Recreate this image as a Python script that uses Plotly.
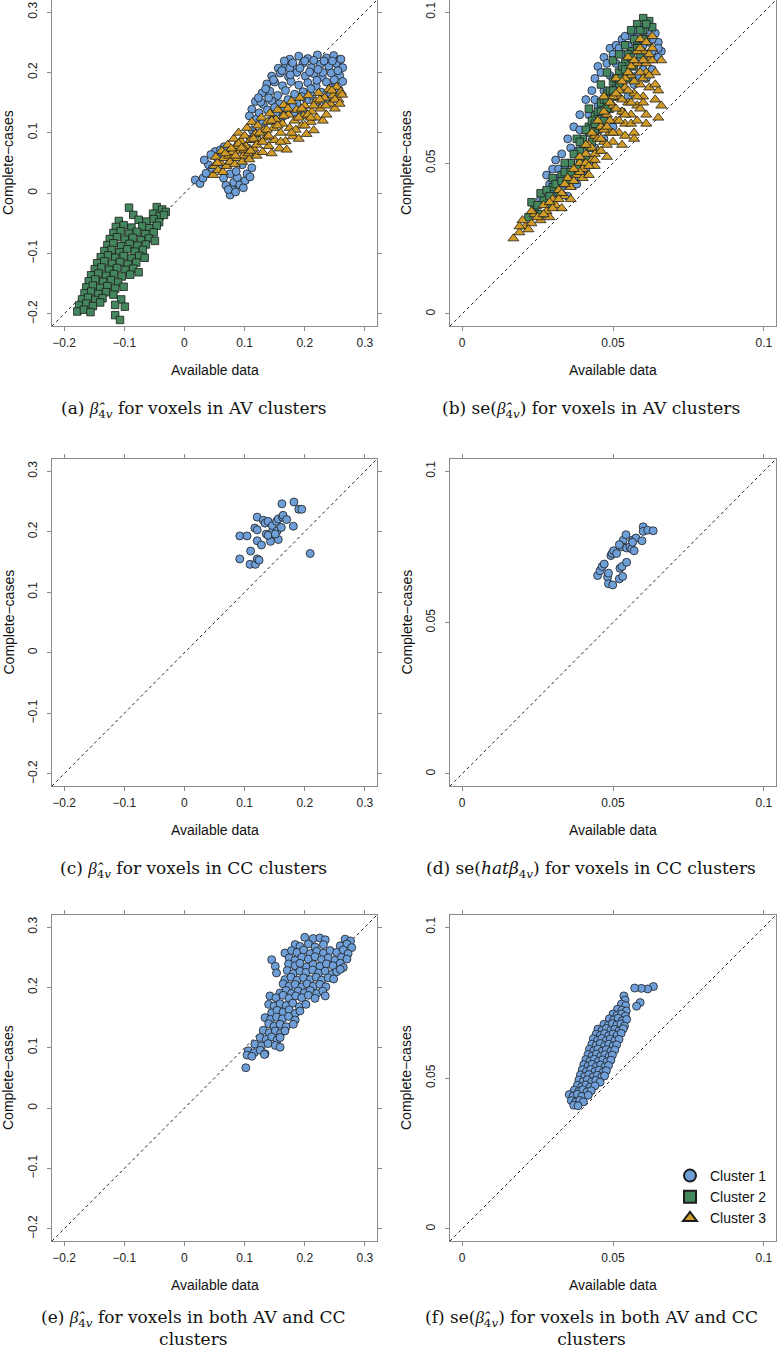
import plotly.graph_objects as go

# ---------------- data ----------------
BETA_TICKS = [-0.2, -0.1, 0, 0.1, 0.2, 0.3]
BETA_TICKTEXT = ["\u22120.2", "\u22120.1", "0", "0.1", "0.2", "0.3"]
BETA_LIM = [-0.2, 0.3]
SE_TICKS = [0, 0.05, 0.1]
SE_TICKTEXT = ["0", "0.05", "0.1"]
SE_LIM = [0.0, 0.1]

CLUSTER_NAMES = ["Cluster 1", "Cluster 2", "Cluster 3"]

# (a) beta hat, AV clusters
A_C1 = [(0.175,0.222),(0.19,0.227),(0.205,0.223),(0.221,0.229),(0.236,0.224),(0.248,0.228),(0.258,0.221),
        (0.156,0.207),(0.168,0.213),(0.181,0.209),(0.197,0.215),(0.211,0.208),(0.226,0.214),(0.24,0.21),(0.252,0.215),(0.263,0.208),
        (0.145,0.194),(0.159,0.199),(0.173,0.193),(0.187,0.2),(0.201,0.194),(0.215,0.198),(0.229,0.192),(0.244,0.199),(0.258,0.195),
        (0.137,0.181),(0.15,0.184),(0.163,0.178),(0.177,0.185),(0.19,0.179),(0.205,0.183),(0.219,0.177),(0.236,0.184),(0.25,0.179),(0.263,0.185),
        (0.129,0.166),(0.142,0.169),(0.155,0.162),(0.168,0.17),(0.183,0.164),(0.197,0.168),(0.212,0.161),(0.228,0.167),(0.243,0.164),(0.257,0.171),
        (0.118,0.152),(0.131,0.147),(0.145,0.153),(0.158,0.148),(0.172,0.155),(0.187,0.149),(0.203,0.154),(0.218,0.148),(0.235,0.151),
        (0.112,0.139),(0.124,0.133),(0.138,0.138),(0.152,0.133),(0.167,0.139),(0.182,0.134),(0.198,0.136),
        (0.118,0.122),(0.13,0.117),(0.145,0.121),(0.16,0.118),(0.108,0.128),(0.127,0.151),(0.175,0.207),(0.26,0.222),(0.166,0.219),
        (0.123,0.158),(0.135,0.173),(0.148,0.188),(0.162,0.203),(0.18,0.216),(0.2,0.219),(0.215,0.22),(0.232,0.219),(0.246,0.219),
        (0.255,0.203),(0.249,0.188),(0.243,0.174),(0.23,0.2),(0.22,0.187),(0.21,0.173),(0.195,0.16),(0.18,0.143),(0.165,0.128),
        (0.15,0.142),(0.14,0.158),(0.176,0.196),(0.192,0.207),(0.208,0.201),(0.222,0.205),
        (0.018,0.022),(0.026,0.016),(0.031,0.025),(0.036,0.033),(0.04,0.047),(0.046,0.041),(0.051,0.069),(0.055,0.058),(0.06,0.072),
        (0.066,0.077),(0.071,0.064),(0.058,0.046),(0.065,0.025),(0.069,0.013),(0.076,-0.003),(0.08,0.006),(0.082,0.018),(0.088,0.026),
        (0.092,0.014),(0.098,0.009),(0.101,0.021),(0.104,0.032),(0.109,0.027),(0.112,0.042),(0.076,0.032),(0.086,0.036),(0.096,0.047),
        (0.1,0.061),(0.105,0.075),(0.109,0.063),(0.11,0.09),(0.113,0.104),(0.119,0.099),(0.073,0.006),(0.085,0.002),(0.033,0.055),(0.044,0.064)]
A_C2 = [(-0.092,-0.024),(-0.046,-0.023),(-0.037,-0.027),(-0.031,-0.031),
        (-0.085,-0.036),(-0.052,-0.034),(-0.041,-0.038),(-0.034,-0.036),
        (-0.109,-0.046),(-0.076,-0.044),(-0.063,-0.047),(-0.051,-0.043),(-0.042,-0.048),
        (-0.114,-0.056),(-0.101,-0.053),(-0.088,-0.057),(-0.07,-0.055),(-0.058,-0.058),(-0.046,-0.054),
        (-0.118,-0.066),(-0.106,-0.063),(-0.092,-0.067),(-0.079,-0.064),(-0.065,-0.068),(-0.051,-0.065),
        (-0.124,-0.076),(-0.112,-0.073),(-0.099,-0.077),(-0.086,-0.074),(-0.072,-0.078),(-0.059,-0.075),(-0.049,-0.079),
        (-0.128,-0.086),(-0.118,-0.083),(-0.105,-0.088),(-0.091,-0.084),(-0.078,-0.087),(-0.064,-0.085),
        (-0.133,-0.096),(-0.121,-0.094),(-0.108,-0.098),(-0.095,-0.093),(-0.082,-0.097),(-0.069,-0.094),
        (-0.139,-0.106),(-0.127,-0.103),(-0.115,-0.107),(-0.101,-0.104),(-0.088,-0.108),(-0.075,-0.104),(-0.066,-0.107),
        (-0.145,-0.116),(-0.133,-0.113),(-0.12,-0.117),(-0.107,-0.114),(-0.094,-0.118),(-0.08,-0.115),
        (-0.149,-0.126),(-0.138,-0.123),(-0.125,-0.127),(-0.112,-0.124),(-0.098,-0.127),(-0.085,-0.125),(-0.076,-0.131),
        (-0.155,-0.136),(-0.143,-0.133),(-0.13,-0.137),(-0.117,-0.134),(-0.104,-0.138),(-0.09,-0.135),
        (-0.159,-0.146),(-0.148,-0.143),(-0.135,-0.147),(-0.122,-0.144),(-0.11,-0.148),
        (-0.163,-0.156),(-0.152,-0.153),(-0.14,-0.157),(-0.128,-0.154),(-0.115,-0.158),(-0.101,-0.155),
        (-0.166,-0.166),(-0.155,-0.163),(-0.143,-0.167),(-0.13,-0.164),(-0.118,-0.168),
        (-0.17,-0.176),(-0.16,-0.173),(-0.148,-0.177),(-0.136,-0.174),(-0.105,-0.176),
        (-0.175,-0.186),(-0.163,-0.183),(-0.152,-0.187),(-0.14,-0.181),(-0.115,-0.185),(-0.099,-0.188),
        (-0.178,-0.196),(-0.167,-0.193),(-0.156,-0.197),(-0.115,-0.202),(-0.107,-0.21)]
A_C3 = [(0.048,0.03),(0.05,0.045),(0.052,0.06),(0.056,0.038),
        (0.06,0.05),(0.062,0.07),(0.064,0.035),(0.066,0.058),
        (0.07,0.045),(0.072,0.08),(0.074,0.062),(0.076,0.052),
        (0.08,0.068),(0.082,0.09),(0.084,0.048),(0.086,0.078),(0.088,0.058),
        (0.09,0.1),(0.092,0.07),(0.094,0.086),(0.096,0.052),(0.098,0.062),
        (0.1,0.095),(0.102,0.078),(0.104,0.108),(0.106,0.066),(0.108,0.056),(0.11,0.088),
        (0.112,0.118),(0.115,0.074),(0.118,0.098),(0.12,0.062),(0.122,0.112),(0.125,0.086),(0.128,0.125),
        (0.13,0.068),(0.132,0.104),(0.135,0.092),(0.138,0.118),(0.14,0.078),(0.142,0.132),(0.145,0.066),(0.148,0.108),
        (0.15,0.088),(0.152,0.122),(0.155,0.138),(0.158,0.074),(0.16,0.1),(0.163,0.115),(0.165,0.146),
        (0.168,0.086),(0.17,0.072),(0.173,0.13),(0.175,0.108),(0.178,0.152),(0.18,0.094),(0.183,0.12),
        (0.186,0.138),(0.19,0.09),(0.192,0.158),(0.195,0.112),(0.198,0.128),(0.2,0.145),(0.203,0.098),
        (0.206,0.162),(0.21,0.118),(0.212,0.135),(0.215,0.104),(0.218,0.152),(0.22,0.125),(0.223,0.166),
        (0.226,0.14),(0.23,0.12),(0.233,0.158),(0.236,0.13),(0.24,0.172),(0.243,0.148),
        (0.247,0.162),(0.25,0.14),(0.253,0.176),(0.256,0.155),(0.26,0.168),(0.262,0.163),
        (0.055,0.05),(0.068,0.066),(0.078,0.074),(0.09,0.082),(0.1,0.072),(0.115,0.09),(0.125,0.1),(0.137,0.105),
        (0.145,0.12),(0.155,0.112),(0.165,0.128),(0.172,0.14),(0.185,0.105),(0.195,0.14),(0.205,0.13),(0.215,0.145),
        (0.225,0.155),(0.235,0.145),(0.245,0.17),(0.25,0.155),(0.258,0.148),(0.085,0.062),(0.095,0.075),(0.11,0.07),
        (0.12,0.08),(0.13,0.085),(0.14,0.095),(0.16,0.085),(0.178,0.1),(0.19,0.125),(0.2,0.112),(0.21,0.125)]

# (b) se, AV clusters
B_C1 = [(0.028,0.046),(0.031,0.051),(0.033,0.053),(0.035,0.058),(0.037,0.062),(0.039,0.066),(0.041,0.071),(0.043,0.074),
        (0.044,0.078),(0.045,0.082),(0.047,0.085),(0.049,0.088),(0.051,0.089),(0.053,0.091),
        (0.056,0.092),(0.058,0.090),(0.060,0.093),(0.062,0.094),(0.064,0.093),(0.065,0.090),(0.066,0.087),(0.064,0.085),
        (0.061,0.086),(0.063,0.081),(0.059,0.084),(0.061,0.078),
        (0.026,0.038),(0.030,0.040),(0.033,0.042),(0.035,0.039),(0.038,0.043),(0.040,0.046),(0.042,0.050),(0.044,0.055),
        (0.047,0.058),(0.050,0.062),(0.053,0.067),(0.055,0.072),(0.057,0.076),(0.048,0.070),(0.046,0.065),(0.051,0.075),
        (0.053,0.080),(0.055,0.085),(0.057,0.088),(0.036,0.050),(0.040,0.056),(0.032,0.045),
        (0.029,0.043),(0.034,0.048),(0.038,0.054),(0.042,0.060),(0.045,0.069),(0.047,0.074),(0.049,0.079),(0.051,0.083),
        (0.053,0.086),(0.055,0.089),(0.058,0.093),(0.060,0.089),(0.062,0.090),(0.065,0.088),(0.063,0.087),(0.060,0.081),
        (0.058,0.079),(0.034,0.043),(0.037,0.045),(0.041,0.048),
        (0.030,0.048),(0.032,0.048),(0.036,0.055),(0.039,0.061),(0.042,0.066),(0.044,0.071),(0.046,0.080),(0.048,0.083),
        (0.050,0.086),(0.052,0.088),(0.054,0.092),(0.057,0.094),(0.059,0.095),(0.063,0.091),(0.065,0.085)]
B_C2 = [(0.022,0.032),(0.024,0.035),(0.026,0.033),(0.027,0.038),(0.029,0.036),(0.030,0.042),(0.032,0.040),(0.033,0.046),
        (0.035,0.044),(0.036,0.050),(0.038,0.048),(0.039,0.054),(0.040,0.058),(0.041,0.052),(0.042,0.062),(0.043,0.057),
        (0.044,0.066),(0.045,0.061),(0.046,0.070),(0.047,0.064),(0.048,0.073),(0.049,0.068),(0.050,0.077),(0.051,0.072),
        (0.052,0.080),(0.053,0.075),(0.054,0.083),(0.055,0.078),(0.056,0.087),(0.057,0.082),(0.058,0.090),(0.059,0.086),
        (0.060,0.094),(0.061,0.091),(0.062,0.097),(0.060,0.098),(0.058,0.096),(0.063,0.095),(0.056,0.094),(0.050,0.084),
        (0.046,0.076),(0.042,0.068),(0.038,0.058),(0.034,0.050),(0.030,0.045),(0.026,0.040),(0.052,0.086),(0.054,0.089),
        (0.048,0.080),
        (0.023,0.037),(0.028,0.041),(0.031,0.043),(0.034,0.047),(0.037,0.053),(0.039,0.057),(0.041,0.061),(0.043,0.064),
        (0.045,0.067),(0.047,0.071),(0.049,0.074),(0.051,0.078),(0.053,0.082),(0.055,0.086),(0.057,0.091),(0.059,0.094),
        (0.061,0.096),(0.044,0.063),(0.048,0.068),(0.052,0.076),
        (0.025,0.036),(0.029,0.039),(0.033,0.044),(0.036,0.047),(0.039,0.051),(0.042,0.055),(0.044,0.060),(0.046,0.067),
        (0.048,0.071),(0.050,0.074),(0.052,0.078),(0.054,0.081),(0.056,0.085),(0.058,0.088),(0.060,0.091)]
B_C3 = [(0.017,0.025),(0.019,0.027),(0.021,0.029),(0.020,0.031),(0.023,0.030),(0.024,0.033),(0.026,0.031),(0.027,0.036),
        (0.028,0.034),(0.030,0.038),(0.031,0.036),(0.032,0.041),(0.034,0.039),(0.035,0.045),(0.036,0.042),(0.038,0.046),
        (0.039,0.050),(0.040,0.048),(0.041,0.053),(0.042,0.056),(0.043,0.051),(0.044,0.059),(0.045,0.054),(0.046,0.062),
        (0.047,0.057),(0.048,0.066),(0.049,0.060),(0.050,0.069),(0.050,0.057),(0.051,0.064),(0.052,0.072),(0.052,0.060),
        (0.053,0.067),(0.054,0.075),(0.054,0.063),(0.055,0.070),(0.056,0.079),(0.056,0.066),(0.057,0.073),(0.057,0.060),
        (0.058,0.083),(0.058,0.069),(0.059,0.076),(0.060,0.087),(0.060,0.072),(0.061,0.080),(0.061,0.066),(0.062,0.084),
        (0.062,0.075),(0.063,0.088),(0.064,0.080),(0.064,0.071),(0.065,0.074),(0.066,0.069),(0.065,0.065),(0.066,0.084),
        (0.061,0.063),(0.057,0.058),(0.053,0.056),(0.048,0.052),(0.044,0.049),(0.040,0.045),(0.036,0.038),(0.033,0.035),
        (0.029,0.032),(0.047,0.072),(0.051,0.078),(0.055,0.085),(0.059,0.091),(0.063,0.092),
        (0.022,0.028),(0.025,0.032),(0.029,0.037),(0.033,0.040),(0.037,0.044),(0.041,0.050),(0.043,0.055),(0.045,0.058),
        (0.047,0.061),(0.049,0.064),(0.051,0.068),(0.053,0.071),(0.055,0.074),(0.057,0.077),(0.059,0.080),(0.061,0.083),
        (0.063,0.084),(0.058,0.087),(0.056,0.082),(0.054,0.078),(0.052,0.074),(0.050,0.072),(0.048,0.062),(0.046,0.058),
        (0.044,0.053),(0.042,0.049),(0.039,0.047),(0.060,0.078),(0.062,0.079),(0.064,0.076),(0.059,0.068),(0.056,0.063),
        (0.054,0.059),(0.058,0.064),(0.060,0.070),
        (0.019,0.029),(0.023,0.034),(0.027,0.033),(0.030,0.035),(0.032,0.038),(0.034,0.043),(0.037,0.048),(0.039,0.052),
        (0.041,0.056),(0.043,0.060),(0.045,0.064),(0.047,0.067),(0.049,0.070),(0.051,0.073),(0.053,0.077),(0.055,0.080),
        (0.057,0.084),(0.059,0.088),(0.061,0.090),(0.062,0.086),(0.060,0.084),(0.058,0.072),(0.056,0.070),(0.054,0.066),
        (0.052,0.064),(0.050,0.060),(0.048,0.056),(0.046,0.054),(0.044,0.051),(0.042,0.046)]

# (c) beta hat, CC clusters
C_C1 = [(0.092,0.193),(0.104,0.193),(0.092,0.155),(0.109,0.146),(0.118,0.146),(0.110,0.168),(0.121,0.155),(0.124,0.153),
        (0.121,0.185),(0.128,0.178),(0.117,0.206),(0.121,0.203),(0.121,0.224),(0.131,0.219),(0.134,0.214),(0.139,0.217),
        (0.136,0.196),(0.141,0.193),(0.143,0.184),(0.147,0.202),(0.146,0.210),(0.153,0.217),(0.156,0.221),(0.154,0.201),
        (0.156,0.187),(0.161,0.207),(0.163,0.224),(0.164,0.227),(0.170,0.220),(0.162,0.246),(0.182,0.249),(0.181,0.209),
        (0.190,0.237),(0.195,0.237),(0.209,0.164),(0.139,0.194),(0.151,0.196)]

# (d) se, CC clusters
D_C1 = [(0.0449,0.0655),(0.0457,0.0671),(0.0464,0.0685),(0.0471,0.0693),(0.0482,0.0650),(0.0485,0.0663),(0.0485,0.0628),
        (0.0499,0.0624),(0.0493,0.0721),(0.0497,0.0728),(0.0502,0.0737),(0.0512,0.0728),(0.0521,0.0644),(0.0523,0.0679),
        (0.0530,0.0685),(0.0532,0.0652),(0.0534,0.0772),(0.0529,0.0750),(0.0521,0.0757),(0.0543,0.0790),(0.0545,0.0699),
        (0.0545,0.0746),(0.0556,0.0750),(0.0562,0.0743),(0.0565,0.0772),(0.0570,0.0737),(0.0576,0.0779),(0.0565,0.0765),
        (0.0596,0.0770),(0.0600,0.0816),(0.0600,0.0801),(0.0615,0.0805),(0.0633,0.0803)]

# (e) beta hat, both AV and CC clusters
E_C1 = [(0.200,0.283),(0.214,0.281),(0.225,0.282),(0.234,0.279),(0.267,0.280),(0.276,0.277),
        (0.184,0.271),(0.192,0.268),(0.206,0.272),(0.217,0.267),(0.231,0.271),(0.259,0.269),(0.270,0.272),(0.278,0.266),
        (0.167,0.257),(0.178,0.261),(0.187,0.258),(0.198,0.262),(0.209,0.256),(0.220,0.260),(0.231,0.257),(0.242,0.261),
        (0.253,0.258),(0.264,0.262),(0.272,0.256),
        (0.145,0.246),(0.174,0.249),(0.184,0.245),(0.195,0.250),(0.206,0.247),(0.217,0.251),(0.228,0.246),(0.239,0.249),
        (0.250,0.245),(0.261,0.250),(0.270,0.247),
        (0.151,0.235),(0.173,0.239),(0.184,0.236),(0.192,0.240),(0.203,0.234),(0.214,0.238),(0.225,0.235),(0.236,0.239),
        (0.247,0.236),(0.259,0.240),(0.264,0.233),
        (0.153,0.224),(0.171,0.228),(0.181,0.223),(0.192,0.227),(0.202,0.225),(0.213,0.229),(0.223,0.224),(0.234,0.227),
        (0.245,0.222),(0.253,0.226),(0.259,0.230),
        (0.167,0.213),(0.177,0.217),(0.187,0.212),(0.198,0.216),(0.209,0.213),(0.219,0.217),(0.228,0.212),(0.239,0.216),(0.248,0.214),
        (0.164,0.206),(0.174,0.202),(0.184,0.205),(0.195,0.201),(0.204,0.206),(0.214,0.202),(0.225,0.205),(0.235,0.201),
        (0.159,0.191),(0.169,0.195),(0.178,0.190),(0.189,0.194),(0.199,0.191),(0.209,0.195),(0.220,0.190),(0.230,0.194),
        (0.142,0.186),(0.152,0.183),(0.164,0.187),(0.174,0.182),(0.185,0.186),(0.195,0.183),(0.206,0.187),(0.217,0.182),(0.234,0.186),
        (0.140,0.172),(0.149,0.169),(0.159,0.173),(0.169,0.170),(0.180,0.174),(0.191,0.168),(0.202,0.172),
        (0.145,0.158),(0.154,0.162),(0.164,0.159),(0.174,0.163),(0.184,0.157),(0.192,0.161),
        (0.134,0.150),(0.143,0.147),(0.153,0.151),(0.163,0.148),(0.173,0.152),(0.184,0.146),
        (0.140,0.140),(0.149,0.136),(0.159,0.139),(0.169,0.135),(0.181,0.139),
        (0.131,0.129),(0.141,0.125),(0.151,0.128),(0.160,0.124),(0.167,0.128),
        (0.126,0.117),(0.136,0.114),(0.145,0.118),(0.154,0.113),(0.159,0.117),
        (0.117,0.106),(0.128,0.103),(0.139,0.107),(0.151,0.104),(0.159,0.101),
        (0.106,0.095),(0.116,0.092),(0.126,0.096),(0.134,0.090),
        (0.104,0.088),(0.112,0.086),(0.133,0.089),
        (0.102,0.067)]

# (f) se, both AV and CC clusters
F_C1 = [(0.0634,0.0803),(0.0615,0.0795),(0.0594,0.0797),(0.0572,0.0798),(0.0590,0.0750),(0.0578,0.0738),
        (0.0536,0.0772),(0.0540,0.0758),(0.0528,0.0745),(0.0542,0.0740),
        (0.0515,0.0728),(0.0530,0.0725),(0.0544,0.0722),
        (0.0500,0.0712),(0.0514,0.0708),(0.0528,0.0712),(0.0541,0.0705),
        (0.0488,0.0696),(0.0502,0.0692),(0.0517,0.0698),(0.0531,0.0690),(0.0545,0.0694),
        (0.0470,0.0678),(0.0484,0.0674),(0.0498,0.0680),(0.0512,0.0675),(0.0526,0.0679),(0.0538,0.0672),
        (0.0450,0.0662),(0.0464,0.0658),(0.0478,0.0664),(0.0492,0.0657),(0.0506,0.0661),(0.0520,0.0656),(0.0534,0.0663),
        (0.0444,0.0645),(0.0458,0.0641),(0.0472,0.0647),(0.0486,0.0640),(0.0500,0.0646),(0.0514,0.0642),(0.0527,0.0648),
        (0.0435,0.0630),(0.0449,0.0625),(0.0463,0.0631),(0.0477,0.0624),(0.0491,0.0629),(0.0505,0.0623),(0.0520,0.0628),
        (0.0430,0.0612),(0.0444,0.0608),(0.0458,0.0614),(0.0472,0.0607),(0.0486,0.0612),(0.0500,0.0606),(0.0512,0.0610),
        (0.0422,0.0595),(0.0436,0.0590),(0.0450,0.0596),(0.0464,0.0589),(0.0478,0.0594),(0.0492,0.0588),(0.0506,0.0593),
        (0.0417,0.0578),(0.0431,0.0573),(0.0445,0.0579),(0.0459,0.0572),(0.0473,0.0577),(0.0487,0.0571),(0.0498,0.0576),
        (0.0410,0.0561),(0.0424,0.0556),(0.0438,0.0562),(0.0452,0.0555),(0.0466,0.0560),(0.0480,0.0554),(0.0493,0.0559),
        (0.0403,0.0544),(0.0417,0.0539),(0.0431,0.0545),(0.0445,0.0538),(0.0459,0.0543),(0.0473,0.0537),(0.0485,0.0541),
        (0.0398,0.0527),(0.0412,0.0522),(0.0426,0.0528),(0.0440,0.0521),(0.0454,0.0526),(0.0468,0.0520),(0.0478,0.0524),
        (0.0392,0.0510),(0.0406,0.0505),(0.0420,0.0511),(0.0434,0.0504),(0.0448,0.0509),(0.0462,0.0503),(0.0472,0.0507),
        (0.0387,0.0493),(0.0401,0.0488),(0.0415,0.0494),(0.0429,0.0487),(0.0443,0.0492),(0.0457,0.0486),
        (0.0382,0.0476),(0.0396,0.0471),(0.0410,0.0477),(0.0424,0.0470),(0.0440,0.0474),
        (0.0372,0.0460),(0.0386,0.0455),(0.0400,0.0461),(0.0414,0.0454),(0.0428,0.0458),
        (0.0355,0.0445),(0.0368,0.0440),(0.0382,0.0446),(0.0396,0.0439),(0.0418,0.0443),
        (0.0362,0.0425),(0.0376,0.0420),(0.0390,0.0426),(0.0402,0.0421),
        (0.0370,0.0410),(0.0384,0.0408)]

# beta with combining circumflex, set in a font that draws the mark
BH = "<span style=\"font-family:Liberation Serif\"><i>\u03b2\u0302</i></span>"
CAPTIONS = [
    "(a) " + BH + "<sub>4<i>v</i></sub> for voxels in AV clusters",
    "(b) se(" + BH + "<sub>4<i>v</i></sub>) for voxels in AV clusters",
    "(c) " + BH + "<sub>4<i>v</i></sub> for voxels in CC clusters",
    "(d) se(<i>hat\u03b2</i><sub>4<i>v</i></sub>) for voxels in CC clusters",
    "(e) " + BH + "<sub>4<i>v</i></sub> for voxels in both AV and CC<br>clusters",
    "(f) se(" + BH + "<sub>4<i>v</i></sub>) for voxels in both AV and CC<br>clusters",
]

# ---------------- styling ----------------
W, H = 777, 1351
COLORS = ["#6F9FD8", "#44875E", "#D09B26"]
SYMBOLS = ["circle", "square", "triangle-up"]
SIZES = [8, 7.5, 9.5]
SANS = "Liberation Sans, Arial, sans-serif"
SERIF = "DejaVu Serif, serif"
BOX_COLOR = "#8a8a8a"

COL_X = {"L": (52, 377), "R": (450, 776)}
ROW_Y = [(0, 326), (459, 786), (915, 1241)]

panels = [
    ("L", 0, "beta", [A_C1, A_C2, A_C3]),
    ("R", 0, "se", [B_C1, B_C2, B_C3]),
    ("L", 1, "beta", [C_C1]),
    ("R", 1, "se", [D_C1]),
    ("L", 2, "beta", [E_C1]),
    ("R", 2, "se", [F_C1]),
]


def padded(lim):
    span = lim[1] - lim[0]
    return [lim[0] - 0.04 * span, lim[1] + 0.04 * span]


fig = go.Figure()
annotations = []
layout = dict(
    width=W, height=H, margin=dict(l=0, r=0, t=0, b=0),
    paper_bgcolor="white", plot_bgcolor="white", template="none",
    showlegend=True,
    legend=dict(x=772 / W, xanchor="right", y=1 - 1234 / H, yanchor="bottom",
                font=dict(family=SANS, size=14, color="#111"),
                bgcolor="rgba(0,0,0,0)", itemsizing="constant", tracegroupgap=0,
                itemwidth=30),
)

for i, (col, row, kind, clusters) in enumerate(panels):
    n = i + 1
    xs = "" if n == 1 else str(n)
    x0, x1 = COL_X[col]
    y0, y1 = ROW_Y[row]
    lim = BETA_LIM if kind == "beta" else SE_LIM
    rng = padded(lim)
    ticks = BETA_TICKS if kind == "beta" else SE_TICKS
    ticktext = BETA_TICKTEXT if kind == "beta" else SE_TICKTEXT
    common = dict(
        range=rng, tickvals=ticks, ticktext=ticktext, ticks="outside", ticklen=4,
        tickcolor=BOX_COLOR, tickwidth=1, showline=True, linecolor=BOX_COLOR, linewidth=1,
        mirror="ticks", showgrid=False, zeroline=False, automargin=False,
        tickfont=dict(family=SANS, size=12, color="#222"),
    )
    layout["xaxis" + xs] = dict(common, domain=[x0 / W, x1 / W], anchor="y" + xs,
                                ticklabelstandoff=2)
    layout["yaxis" + xs] = dict(common, domain=[1 - y1 / H, 1 - y0 / H], anchor="x" + xs,
                                tickangle=-90, ticklabelstandoff=5)

    # diagonal reference line y = x
    fig.add_trace(go.Scatter(x=rng, y=rng, mode="lines", xaxis="x" + xs, yaxis="y" + xs,
                             line=dict(color="#222", width=1, dash="3px,3px"),
                             showlegend=False, hoverinfo="skip"))
    for k, pts in enumerate(clusters):
        fig.add_trace(go.Scatter(
            x=[p[0] for p in pts], y=[p[1] for p in pts], mode="markers",
            xaxis="x" + xs, yaxis="y" + xs, name=CLUSTER_NAMES[k],
            legendgroup=CLUSTER_NAMES[k], showlegend=(n == 1),
            marker=dict(symbol=SYMBOLS[k], size=SIZES[k], color=COLORS[k],
                        line=dict(color="#1c1c1c", width=0.8)),
        ))

    cx = (x0 + x1) / 2
    # axis titles
    annotations.append(dict(text="Available data", x=cx / W, y=1 - (y1 + 44) / H,
                            xref="paper", yref="paper", showarrow=False,
                            xanchor="center", yanchor="middle",
                            font=dict(family=SANS, size=14, color="#111")))
    annotations.append(dict(text="Complete\u2212cases", x=(x0 - 44) / W, y=1 - ((y0 + y1) / 2) / H,
                            xref="paper", yref="paper", showarrow=False, textangle=-90,
                            xanchor="center", yanchor="middle",
                            font=dict(family=SANS, size=14, color="#111")))
    # caption
    capx = 193 if col == "L" else 591
    cap_off = 70 if row < 2 else 64
    annotations.append(dict(text=CAPTIONS[i], x=capx / W, y=1 - (y1 + cap_off) / H,
                            xref="paper", yref="paper", showarrow=False,
                            xanchor="center", yanchor="top",
                            font=dict(family=SERIF, size=17, color="#111")))

layout["annotations"] = annotations
fig.update_layout(**layout)
fig.write_html("out.html", config={"displayModeBar": False},
               post_script="document.body.style.margin='0px';document.body.style.overflow='hidden';")
